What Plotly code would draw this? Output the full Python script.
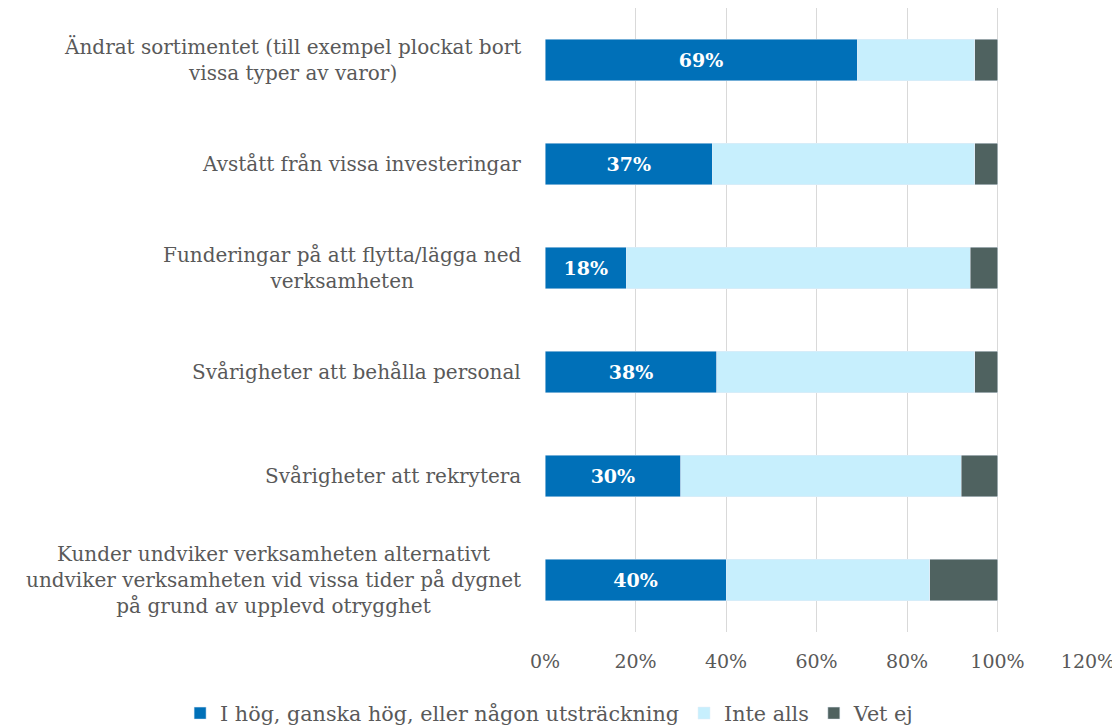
import plotly.graph_objects as go

categories = [
    "Ändrat sortimentet (till exempel plockat bort<br>vissa typer av varor)",
    "Avstått från vissa investeringar",
    "Funderingar på att flytta/lägga ned<br>verksamheten",
    "Svårigheter att behålla personal",
    "Svårigheter att rekrytera",
    "Kunder undviker verksamheten alternativt<br>undviker verksamheten vid vissa tider på dygnet<br>på grund av upplevd otrygghet",
]
hog = [0.69, 0.37, 0.18, 0.38, 0.30, 0.40]
inte_alls = [0.26, 0.58, 0.76, 0.57, 0.62, 0.45]
vet_ej = [0.05, 0.05, 0.06, 0.05, 0.08, 0.15]
series_names = ["I hög, ganska hög, eller någon utsträckning", "Inte alls", "Vet ej"]
colors = ["#0070B8", "#C7EFFD", "#4F6260"]
tick_vals = [0, 0.2, 0.4, 0.6, 0.8, 1.0, 1.2]
tick_text = ["0%", "20%", "40%", "60%", "80%", "100%", "120%"]

FONT = "DejaVu Serif, Georgia, serif"
FS = 20
idx = list(range(len(categories)))

fig = go.Figure()
fig.add_trace(go.Bar(
    y=idx, x=hog, orientation="h", name=series_names[0], marker_color=colors[0],
    text=[f"{round(v*100)}%" for v in hog], textposition="inside",
    insidetextanchor="middle", textangle=0,
    textfont=dict(color="white", size=19, family=FONT, weight="bold"),
    width=0.4,
))
fig.add_trace(go.Bar(y=idx, x=inte_alls, orientation="h", name=series_names[1],
                     marker_color=colors[1], width=0.4, hoverinfo="x"))
fig.add_trace(go.Bar(y=idx, x=vet_ej, orientation="h", name=series_names[2],
                     marker_color=colors[2], width=0.4, hoverinfo="x"))

annotations = []
for i, c in enumerate(categories):
    annotations.append(dict(
        x=0, xref="paper", y=i, yref="y", text=c, showarrow=False,
        xanchor="right", xshift=-22, align="center",
        font=dict(family=FONT, size=FS, color="#595959"),
    ))

fig.update_layout(
    width=1112, height=717, barmode="stack",
    margin=dict(l=537, r=32, t=0, b=93, autoexpand=False),
    plot_bgcolor="white", paper_bgcolor="white",
    font=dict(family=FONT, color="#595959", size=FS),
    bargap=0.6,
    showlegend=True,
    legend=dict(orientation="h", x=-0.672, xanchor="left",
                y=-0.098, yanchor="top",
                font=dict(family=FONT, size=20.7, color="#595959"),
                itemwidth=30, traceorder="normal"),
    annotations=annotations,
    xaxis=dict(range=[0, 1.2], tickvals=tick_vals, ticktext=tick_text,
               showgrid=True, gridcolor="#D9D9D9", gridwidth=1, zeroline=False,
               ticks="outside", ticklen=12, tickcolor="rgba(0,0,0,0)",
               tickfont=dict(family=FONT, size=19, color="#595959"),
               fixedrange=True, automargin=False),
    yaxis=dict(autorange="reversed", showticklabels=False, showgrid=False,
               zeroline=False, fixedrange=True, automargin=False),
)

fig.write_html("out.html")
